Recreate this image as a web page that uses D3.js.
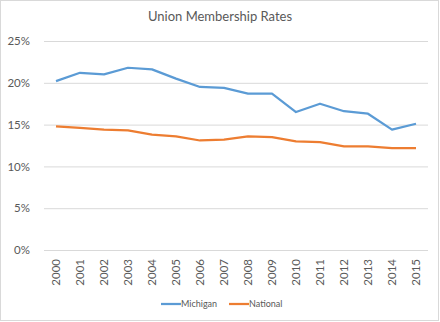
<!DOCTYPE html>
<html><head><meta charset="utf-8">
<script src="https://cdn.jsdelivr.net/npm/d3@7"></script>
<style>body{margin:0;background:#fff;} svg{display:block;font-family:Lato,"Open Sans",sans-serif;}</style>
</head><body>
<svg id="c" width="440" height="322"></svg>
<script>
const years = ["2000","2001","2002","2003","2004","2005","2006","2007","2008","2009","2010","2011","2012","2013","2014","2015"];
const michigan = [20.2,21.2,21.0,21.8,21.6,20.5,19.5,19.4,18.7,18.7,16.5,17.5,16.6,16.3,14.4,15.1];
const national = [14.8,14.6,14.4,14.3,13.8,13.6,13.1,13.2,13.6,13.5,13.0,12.9,12.4,12.4,12.2,12.2];
const yTicks = [0,5,10,15,20,25];
const seriesNames = ["Michigan","National"];
const colors = ["#5b9bd5","#ed7d31"];

const svg = d3.select("#c");
svg.append("rect").attr("x",0.5).attr("y",0.5).attr("width",438).attr("height",320)
  .attr("fill","#fff").attr("stroke","#d9d9d9");

const x = d3.scaleBand().domain(years).range([44,428]);
const y = d3.scaleLinear().domain([0,25]).range([250,41]);

svg.append("text").attr("x",220).attr("y",21).attr("text-anchor","middle")
  .attr("font-size",13).attr("fill","#595959").text("Union Membership Rates");

const yAxis = svg.append("g").attr("transform","translate(44,0)")
  .call(d3.axisLeft(y).tickValues(yTicks).tickFormat(d=>d+"%").tickSize(-384).tickPadding(14));
yAxis.select(".domain").remove();
yAxis.selectAll("line").attr("stroke","#d9d9d9");
yAxis.selectAll("text").attr("font-size",11.5).attr("fill","#595959").attr("font-family","Lato,'Open Sans',sans-serif");

const xAxis = svg.append("g").attr("transform","translate(0,250)")
  .call(d3.axisBottom(x).tickSize(0).tickPadding(0));
xAxis.select(".domain").remove();
xAxis.selectAll("text").attr("font-size",11.5).attr("fill","#595959").attr("font-family","Lato,'Open Sans',sans-serif")
  .attr("text-anchor","end").attr("dy","0.35em")
  .attr("transform","translate(0,9) rotate(-90)").attr("x",0).attr("y",0);

const line = d3.line().x((d,i)=>x(years[i])+x.bandwidth()/2).y(d=>y(d));
[michigan,national].forEach((s,k)=>{
  svg.append("path").datum(s).attr("d",line).attr("fill","none")
    .attr("stroke",colors[k]).attr("stroke-width",2.25).attr("stroke-linejoin","round");
});

const legX = [161,229];
seriesNames.forEach((n,k)=>{
  const g = svg.append("g").attr("transform",`translate(${legX[k]},304)`);
  g.append("line").attr("x1",0).attr("x2",20).attr("stroke",colors[k]).attr("stroke-width",2.25);
  g.append("text").attr("x",20).attr("y",0).attr("dy","0.35em").attr("font-size",9)
    .attr("fill","#595959").text(n);
});
</script>
</body></html>
